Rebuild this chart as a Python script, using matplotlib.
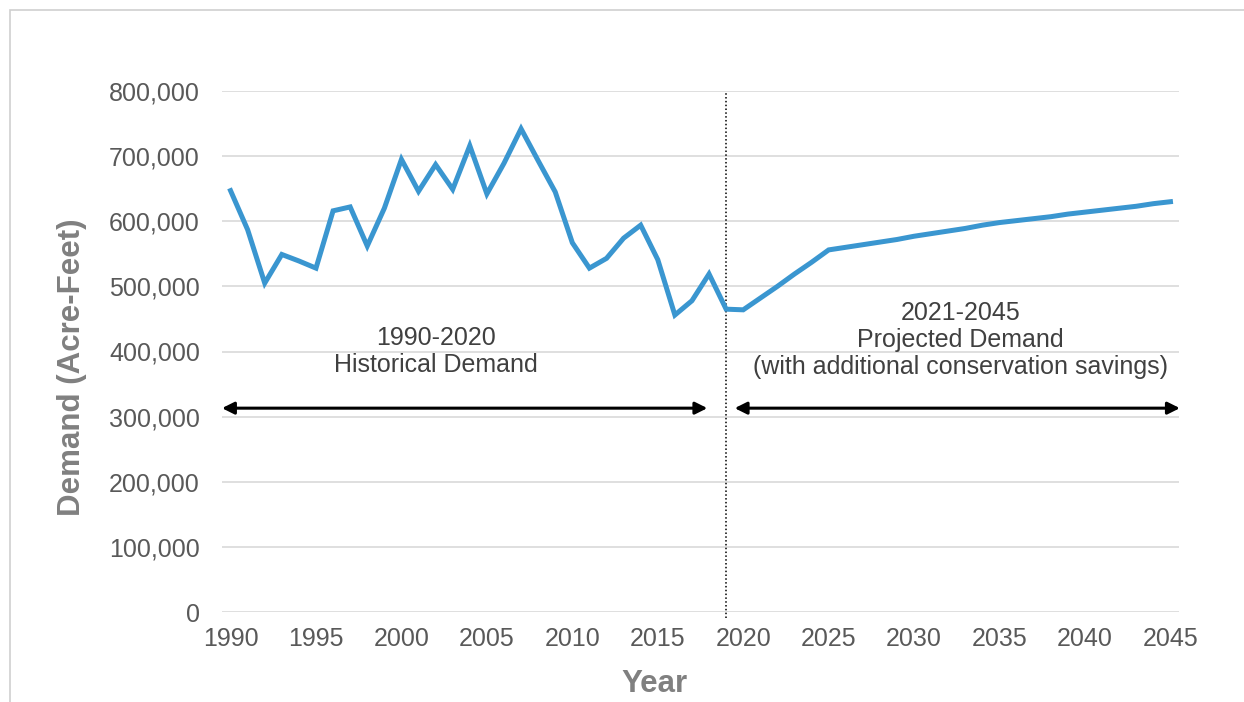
import matplotlib.pyplot as plt
from matplotlib.patches import Rectangle

plt.rcParams['font.family'] = ['Liberation Sans', 'DejaVu Sans']

# historical demand (acre-feet), 1990-2020
hist_years = list(range(1990, 2021))
hist_demand = [647000, 587000, 505000, 549000, 539000, 528000, 616000, 622000,
               562000, 620000, 695000, 646000, 687000, 649000, 716000, 642000,
               689000, 742000, 693000, 645000, 567000, 528000, 543000, 574000,
               594000, 541000, 456000, 478000, 519000, 465000, 464000]

# projected demand, 2021-2045
proj_years = list(range(2021, 2046))
proj_demand = [482000, 500000, 519000, 537000, 556000, 560000, 564000, 568000,
               572000, 577000, 581000, 585000, 589000, 594000, 598000, 601000,
               604000, 607000, 611000, 614000, 617000, 620000, 623000, 627000,
               630000]

years = hist_years + proj_years
demand = hist_demand + proj_demand

yticks = [0, 100000, 200000, 300000, 400000, 500000, 600000, 700000, 800000]
xticks = list(range(1990, 2046, 5))

grey = '#595959'
text_col = '#404040'

fig = plt.figure(figsize=(12.44, 7.02), dpi=100)
ax = fig.add_axes([222 / 1244, 1 - 612 / 702, (1179 - 222) / 1244, (612 - 91) / 702])

# outer frame (left and top visible in reference)
fig.add_artist(Rectangle((10 / 1244, -0.05), 1.2, 1 - 10 / 702 + 0.05, transform=fig.transFigure,
                         fill=False, edgecolor='#cfcfcf', lw=1.2))

ax.plot(years, demand, color='#3a96d0', lw=3.6, solid_joinstyle='miter', zorder=3)

ax.set_xlim(1989.5, 2045.5)
ax.set_ylim(0, 800000)
ax.set_yticks(yticks)
ax.set_yticklabels([f'{v:,}' for v in yticks])
ax.set_xticks(xticks)
ax.tick_params(length=0, labelsize=18, colors=grey)
ax.tick_params(axis='y', pad=16)
ax.tick_params(axis='x', pad=11)
ax.grid(axis='y', color='#d9d9d9', lw=1.2)
ax.set_axisbelow(True)
for s in ax.spines.values():
    s.set_visible(False)

ax.set_xlabel('Year', fontsize=22.5, fontweight='bold', color='#808080', va='center')
ax.set_ylabel('Demand (Acre-Feet)', fontsize=22.5, fontweight='bold', color='#808080', va='center')
ax.xaxis.set_label_coords(0.452, -0.138)
ax.yaxis.set_label_coords(-0.157, 0.47)

ax.axvline(2019, color='black', ls=(0, (1, 1.5)), lw=1.1, ymin=-0.012, clip_on=False, zorder=2)

arrow_y = 313000
ax.annotate('', xy=(1989.5, arrow_y), xytext=(2017.9, arrow_y),
            arrowprops=dict(arrowstyle='<|-|>', color='black', lw=2.2, mutation_scale=18, shrinkA=0, shrinkB=0))
ax.annotate('', xy=(2019.5, arrow_y), xytext=(2045.55, arrow_y),
            arrowprops=dict(arrowstyle='<|-|>', color='black', lw=2.2, mutation_scale=18, shrinkA=0, shrinkB=0))

ax.text(2002.0, 400000, '1990-2020\nHistorical Demand', ha='center', va='center',
        fontsize=18, color=text_col, linespacing=1.15)
ax.text(2032.7, 418000, '2021-2045\nProjected Demand\n(with additional conservation savings)',
        ha='center', va='center', fontsize=18, color=text_col, linespacing=1.15)

fig.savefig('out.png', dpi=100)
